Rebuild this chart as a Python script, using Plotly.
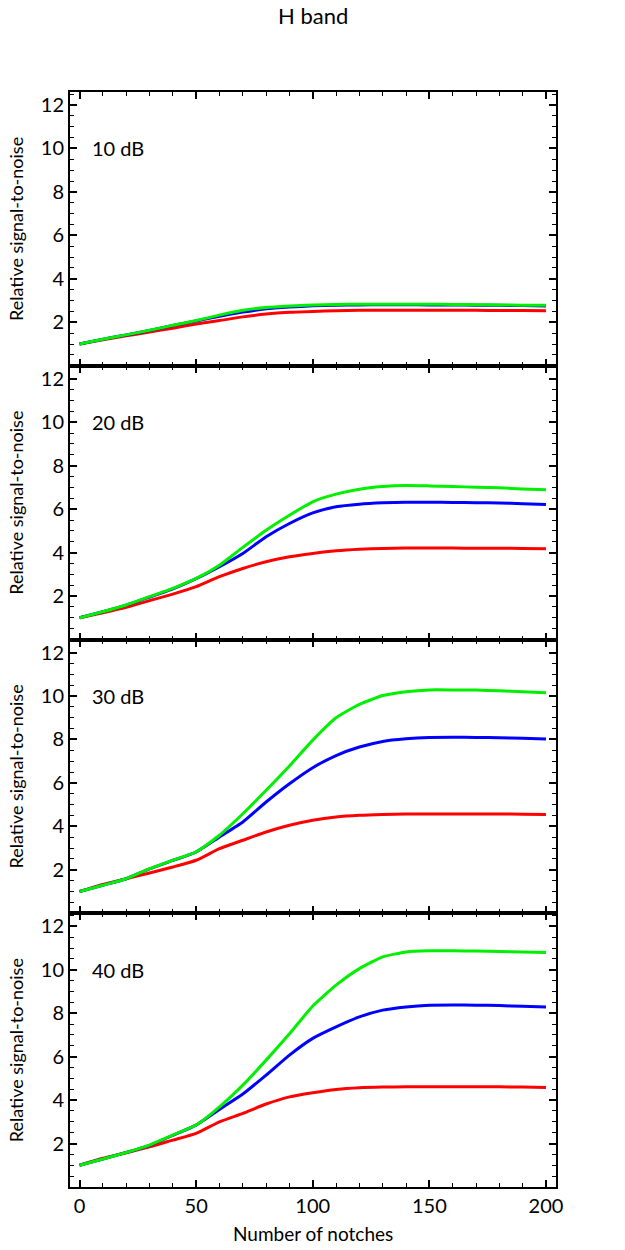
import plotly.graph_objects as go
from plotly.subplots import make_subplots

notches = [0, 10, 20, 30, 40, 50, 60, 70, 80, 90, 100, 110, 120, 130, 140, 150, 160, 170, 180, 190, 200]

panel_labels = ["10 dB", "20 dB", "30 dB", "40 dB"]

red_10 = [1.0, 1.2, 1.38, 1.55, 1.73, 1.92, 2.08, 2.25, 2.38, 2.46, 2.50, 2.53, 2.55, 2.55, 2.55, 2.55, 2.55, 2.55, 2.54, 2.54, 2.53]
blue_10 = [1.0, 1.22, 1.42, 1.62, 1.85, 2.06, 2.28, 2.47, 2.62, 2.70, 2.76, 2.79, 2.80, 2.81, 2.81, 2.80, 2.80, 2.79, 2.78, 2.77, 2.75]
green_10 = [1.0, 1.22, 1.42, 1.63, 1.86, 2.08, 2.33, 2.55, 2.68, 2.75, 2.80, 2.82, 2.83, 2.83, 2.83, 2.83, 2.82, 2.81, 2.80, 2.79, 2.78]

red_20 = [1.0, 1.23, 1.48, 1.79, 2.09, 2.43, 2.89, 3.27, 3.58, 3.81, 3.96, 4.08, 4.15, 4.19, 4.21, 4.21, 4.21, 4.20, 4.20, 4.19, 4.18]
blue_20 = [1.0, 1.28, 1.58, 1.95, 2.33, 2.80, 3.35, 3.96, 4.73, 5.34, 5.83, 6.11, 6.23, 6.29, 6.32, 6.32, 6.31, 6.30, 6.28, 6.25, 6.21]
green_20 = [1.0, 1.28, 1.59, 1.97, 2.35, 2.81, 3.42, 4.24, 5.03, 5.72, 6.34, 6.69, 6.92, 7.04, 7.09, 7.07, 7.04, 7.01, 6.98, 6.93, 6.89]

red_30 = [1.0, 1.33, 1.59, 1.85, 2.13, 2.44, 2.97, 3.36, 3.74, 4.05, 4.28, 4.43, 4.51, 4.55, 4.57, 4.57, 4.57, 4.57, 4.57, 4.56, 4.54]
blue_30 = [1.0, 1.29, 1.59, 2.04, 2.43, 2.82, 3.51, 4.20, 5.12, 5.96, 6.70, 7.26, 7.65, 7.91, 8.03, 8.09, 8.10, 8.09, 8.08, 8.05, 8.02]
green_30 = [1.0, 1.29, 1.59, 2.05, 2.44, 2.82, 3.59, 4.58, 5.66, 6.78, 7.97, 9.0, 9.61, 10.02, 10.20, 10.28, 10.28, 10.27, 10.24, 10.20, 10.15]

red_40 = [1.0, 1.32, 1.58, 1.85, 2.16, 2.47, 3.00, 3.39, 3.82, 4.15, 4.34, 4.49, 4.57, 4.60, 4.61, 4.61, 4.61, 4.61, 4.61, 4.60, 4.58]
blue_40 = [1.0, 1.29, 1.59, 1.92, 2.38, 2.85, 3.57, 4.28, 5.15, 6.07, 6.84, 7.37, 7.83, 8.14, 8.29, 8.37, 8.38, 8.37, 8.35, 8.32, 8.29]
green_40 = [1.0, 1.29, 1.59, 1.93, 2.39, 2.85, 3.69, 4.69, 5.84, 7.05, 8.33, 9.29, 10.05, 10.59, 10.82, 10.87, 10.87, 10.86, 10.84, 10.82, 10.79]

panels = [
    (red_10, blue_10, green_10),
    (red_20, blue_20, green_20),
    (red_30, blue_30, green_30),
    (red_40, blue_40, green_40),
]

y_ticks = [2, 4, 6, 8, 10, 12]
x_ticks = [0, 50, 100, 150, 200]

FONT = "Lato"
fig = make_subplots(rows=4, cols=1, shared_xaxes=True, vertical_spacing=0)

colors = ["#ff0000", "#0000ff", "#00f000"]
for i, series in enumerate(panels):
    for s, c in zip(series, colors):
        fig.add_trace(go.Scatter(x=notches, y=s, mode="lines",
                                 line=dict(color=c, width=3, shape="spline", smoothing=0.5),
                                 showlegend=False, hoverinfo="skip"), row=i + 1, col=1)

axis_common = dict(showline=True, linewidth=2, linecolor="black", mirror="ticks",
                   ticks="inside", ticklen=7, tickwidth=1.5, tickcolor="black",
                   showgrid=False, zeroline=False,
                   tickfont=dict(family=FONT, size=20, color="black"))

for i in range(4):
    fig.update_yaxes(range=[0, 12.6], tickvals=y_ticks,
                     minor=dict(dtick=0.5, tick0=0, ticks="inside", ticklen=4, tickwidth=1.2, tickcolor="black"),
                     **axis_common, row=i + 1, col=1)
    fig.update_xaxes(range=[-4.1, 204.3], tickvals=x_ticks,
                     minor=dict(dtick=10, tick0=0, ticks="inside", ticklen=4, tickwidth=1.2, tickcolor="black"),
                     showticklabels=(i == 3), **axis_common, row=i + 1, col=1)

annotations = []
for i in range(4):
    yref = "y" if i == 0 else f"y{i + 1}"
    xref = "x" if i == 0 else f"x{i + 1}"
    annotations.append(dict(x=4.5, y=10, xref=xref, yref=yref, text=panel_labels[i],
                            showarrow=False, xanchor="left", yanchor="middle",
                            font=dict(family=FONT, size=20, color="black")))
    dom = fig.layout[("yaxis" if i == 0 else f"yaxis{i + 1}")].domain
    annotations.append(dict(x=-0.111, y=(dom[0] + dom[1]) / 2, xref="paper", yref="paper",
                            text="Relative signal-to-noise", textangle=-90, showarrow=False,
                            xanchor="center", yanchor="middle",
                            font=dict(family=FONT, size=18, color="black")))

annotations.append(dict(x=0.5, y=0, xref="paper", yref="paper", yshift=-46,
                        text="Number of notches", showarrow=False, xanchor="center", yanchor="middle",
                        font=dict(family=FONT, size=19, color="black")))
annotations.append(dict(x=0.5, y=1, xref="paper", yref="paper", yshift=77,
                        text="H band", showarrow=False, xanchor="center", yanchor="middle",
                        font=dict(family=FONT, size=22, color="black")))

fig.update_layout(width=625, height=1250,
                  margin=dict(l=69.5, r=69.3, t=92, b=63),
                  plot_bgcolor="white", paper_bgcolor="white",
                  annotations=annotations)

fig.write_html("out.html")
